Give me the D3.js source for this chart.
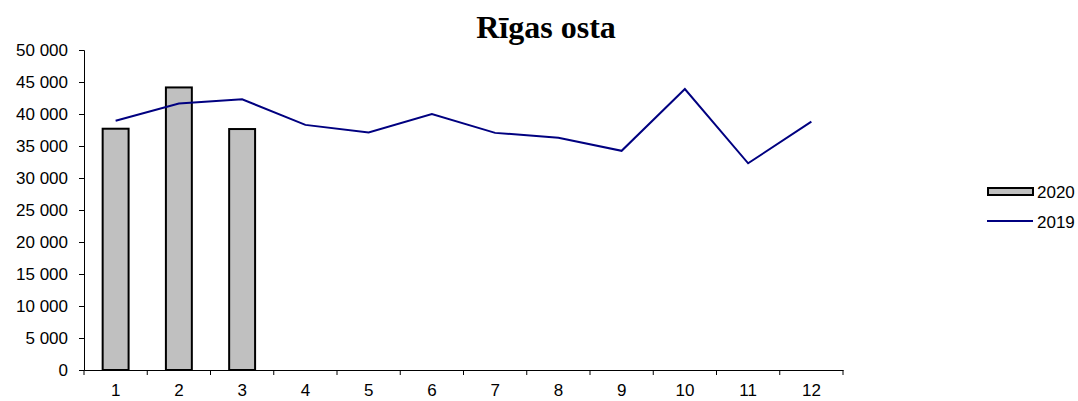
<!DOCTYPE html>
<html>
<head>
<meta charset="utf-8">
<script src="https://cdn.jsdelivr.net/npm/d3@7"></script>
<style>
  body { margin: 0; background: #fff; }
  svg text { font-family: "Liberation Sans", Arial, sans-serif; }
</style>
</head>
<body>
<div id="chart"></div>
<script>
// data
var months = ["1", "2", "3", "4", "5", "6", "7", "8", "9", "10", "11", "12"];
var values2020 = [37700, 44150, 37650];
var values2019 = [38950, 41650, 42300, 38300, 37100, 40000, 37050, 36300, 34250, 43900, 32300, 38800];
var yTicks = [0, 5000, 10000, 15000, 20000, 25000, 30000, 35000, 40000, 45000, 50000];
var seriesNames = ["2020", "2019"];

var width = 1078,
  height = 401,
  margin = {left: 84, right: 235, top: 50, bottom: 31},
  svg = d3.select("#chart")
    .append("svg")
    .attr("width", width)
    .attr("height", height),
  x = d3.scaleBand()
    .domain(months)
    .range([margin.left, width - margin.right])
    .paddingInner(0.59)
    .paddingOuter(0.295),
  xCat = d3.scaleBand()
    .domain(months)
    .range([margin.left, width - margin.right]),
  y = d3.scaleLinear()
    .domain([0, 50000])
    .range([height - margin.bottom, margin.top]);

var fmt = function (d) { return d3.format(",")(d).replace(/,/g, " "); };

// title
svg.append("text")
  .attr("x", 546)
  .attr("y", 38)
  .attr("text-anchor", "middle")
  .style("font-family", "'Liberation Serif', 'Times New Roman', serif")
  .style("font-weight", "bold")
  .style("font-size", "32px")
  .text("Rīgas osta");

// y axis
var yAxis = svg.append("g")
  .attr("transform", "translate(" + margin.left + ",0)")
  .call(d3.axisLeft(y).tickValues(yTicks).tickFormat(fmt).tickSizeOuter(0).tickSize(5).tickPadding(11));

// x axis with ticks between categories
var xAxis = svg.append("g")
  .attr("transform", "translate(0," + y(0) + ")")
  .call(d3.axisBottom(xCat).tickSize(0).tickPadding(14));
xAxis.selectAll(".tick line").remove();
xAxis.selectAll(".sep")
  .data(d3.range(months.length + 1))
  .enter().append("line")
  .attr("class", "sep")
  .attr("x1", function (i) { return margin.left + i * xCat.step(); })
  .attr("x2", function (i) { return margin.left + i * xCat.step(); })
  .attr("y1", 0).attr("y2", 5)
  .attr("stroke", "#000");

svg.selectAll(".domain").attr("stroke", "#000");
svg.selectAll(".tick text").style("font-size", "17px").attr("fill", "#000");

// bars 2020
svg.selectAll("rect.bar")
  .data(values2020)
  .enter().append("rect")
  .attr("class", "bar")
  .attr("x", function (d, i) { return x(months[i]); })
  .attr("width", x.bandwidth())
  .attr("y", function (d) { return y(d); })
  .attr("height", function (d) { return y(0) - y(d); })
  .attr("fill", "#c0c0c0")
  .attr("stroke", "#000")
  .attr("stroke-width", 2);

// line 2019
var line = d3.line()
  .x(function (d, i) { return xCat(months[i]) + xCat.bandwidth() / 2; })
  .y(function (d) { return y(d); });
svg.append("path")
  .datum(values2019)
  .attr("d", line)
  .attr("fill", "none")
  .attr("stroke", "#000080")
  .attr("stroke-width", 2);

// legend
var legend = svg.append("g").attr("transform", "translate(987,0)");
legend.append("rect")
  .attr("x", 1).attr("y", 188)
  .attr("width", 45).attr("height", 7)
  .attr("fill", "#c0c0c0").attr("stroke", "#000").attr("stroke-width", 2);
legend.append("line")
  .attr("x1", 0).attr("x2", 46)
  .attr("y1", 221).attr("y2", 221)
  .attr("stroke", "#000080").attr("stroke-width", 2);
legend.selectAll("text.leg")
  .data(seriesNames)
  .enter().append("text")
  .attr("class", "leg")
  .attr("x", 50)
  .attr("y", function (d, i) { return 192 + i * 30; })
  .attr("dy", "0.35em")
  .style("font-size", "17px")
  .text(function (d) { return d; });
</script>
</body>
</html>
